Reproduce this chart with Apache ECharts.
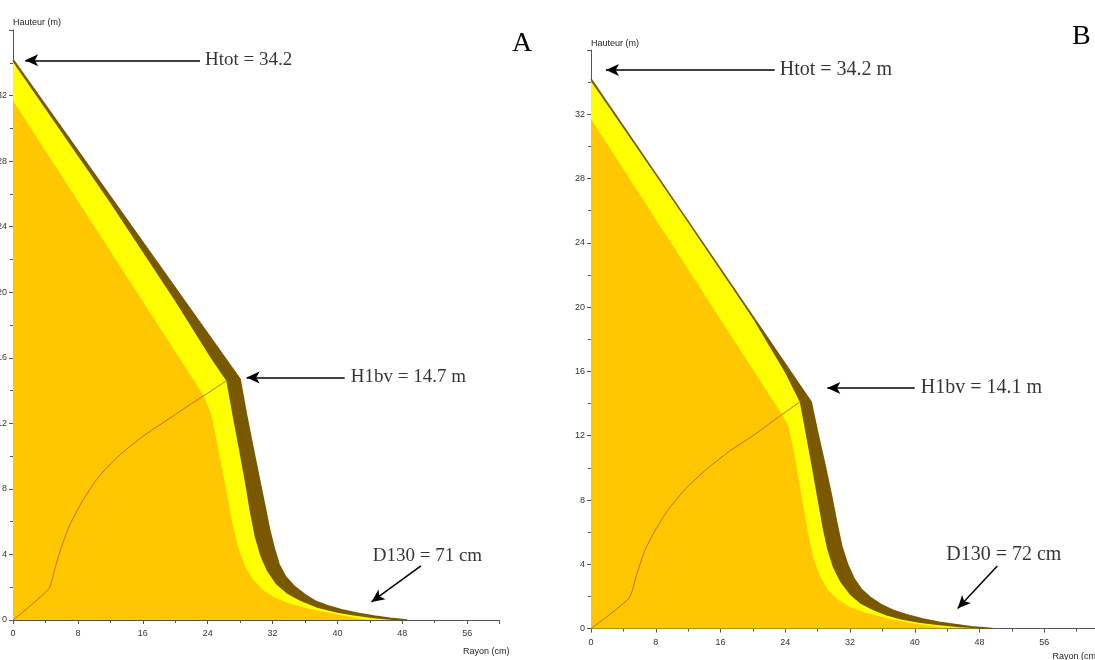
<!DOCTYPE html>
<html><head><meta charset="utf-8">
<script src="https://cdn.jsdelivr.net/npm/echarts@6/dist/echarts.min.js"></script>
<style>html,body{margin:0;padding:0;background:#fff}#c{width:1095px;height:660px}</style>
</head><body><div id="c"></div>
<script>
// ---------- Panel A data (Rayon cm, Hauteur m) ----------
const outerA  = [[0,34.2],[28.0,14.7],[28.8,12.5],[29.6,10.5],[30.3,8.8],[31.0,7.1],[31.6,5.6],[32.2,4.4],[32.8,3.4],[33.6,2.65],[34.7,2.05],[36.0,1.55],[37.3,1.15],[38.8,0.87],[40.5,0.62],[42.5,0.41],[44.5,0.24],[46.5,0.1],[48.6,0]];
const yellowA = [[0,34.05],[12,25.45],[20,19.45],[24.5,15.9],[26.3,14.6],[27.1,12.4],[27.9,10.3],[28.6,8.4],[29.2,6.6],[29.8,5.1],[30.5,3.9],[31.3,3.0],[32.4,2.2],[33.8,1.6],[35.4,1.17],[37.5,0.75],[40.0,0.45],[42.0,0.27],[44.5,0.11],[46.9,0]];
const orangeA = [[0,31.7],[23.5,13.7],[24.5,12.5],[25.4,10.2],[26.3,7.9],[27.1,5.8],[27.8,4.4],[28.6,3.3],[29.6,2.45],[30.8,1.85],[32.2,1.4],[34.0,1.02],[36.0,0.75],[38.0,0.53],[40.0,0.33],[42.0,0.14],[43.8,0]];
const pithA   = [[0,0],[4.4,1.9],[5.2,3.2],[6.0,4.5],[7.0,5.8],[8.5,7.2],[10.5,8.7],[13,10],[16,11.2],[19,12.2],[22,13.2],[24.5,14.0],[26.3,14.6]];
const textsA  = ['Htot = 34.2','H1bv = 14.7 m','D130 = 71 cm'];
const textPosA = [[23.06,34.15],[40.9,14.8],[51.1,3.9]];
const arrowsA = [[[23.06,34.15],[1.5,34.15]],[[40.9,14.8],[28.8,14.8]],[[50.3,3.3],[44.2,1.1]]];

// ---------- Panel B data ----------
const outerB  = [[0,34.2],[27.2,14.1],[28.0,12.2],[28.9,10.2],[29.7,8.3],[30.4,6.5],[31.0,5.1],[31.7,4.0],[32.5,3.1],[33.4,2.45],[34.5,1.95],[35.8,1.5],[37.3,1.15],[39.0,0.86],[41.0,0.6],[43.0,0.4],[45.0,0.25],[47.0,0.12],[49.6,0]];
const yellowB = [[0,34.05],[12,25.3],[20,19.3],[24.0,15.9],[25.8,14.1],[26.5,12.2],[27.3,10.0],[28.0,8.0],[28.6,6.3],[29.2,4.9],[29.9,3.8],[30.8,2.9],[32.0,2.1],[33.3,1.55],[34.8,1.15],[36.5,0.82],[38.3,0.56],[40.5,0.37],[43.0,0.21],[45.5,0.09],[48.4,0]];
const orangeB = [[0,31.7],[23.5,13.4],[24.4,12.6],[25.3,10.4],[26.1,8.0],[26.8,6.0],[27.5,4.4],[28.3,3.25],[29.3,2.4],[30.5,1.8],[32.0,1.35],[34.0,0.98],[36.5,0.64],[39.0,0.4],[41.5,0.2],[44.5,0]];
const pithB   = [[0,0],[4.7,1.9],[5.6,3.3],[6.6,4.8],[7.8,6.0],[9.4,7.3],[11.5,8.6],[14,9.8],[17,11],[20,12],[23,13.1],[25.8,14.1]];
const textsB  = ['Htot = 34.2 m','H1bv = 14.1 m','D130 = 72 cm'];
const textPosB = [[22.7,34.76],[40.0,14.97],[51.0,4.58]];
const arrowsB = [[[22.7,34.76],[1.85,34.76]],[[40.0,14.97],[29.2,14.97]],[[50.2,3.9],[45.3,1.25]]];

const panelLetters = ['A','B'];
const xName = 'Rayon (cm)';
const yName = 'Hauteur (m)';

const BROWN = '#7A5800', YELLOW = '#FFFF00', ORANGE = '#FFC700', RED = '#D2601A';
const AX = '#555';
const SANS = 'Liberation Sans', SERIF = 'Liberation Serif';

function xAxisCfg(idx, max, nameGap, padTop) {
  return {
    gridIndex: idx, type: 'value', min: 0, max: max, interval: 8,
    name: xName, nameLocation: 'end', nameGap: nameGap,
    nameTextStyle: {fontFamily: SANS, fontSize: 9, color: '#222', align: 'right', verticalAlign: 'top', padding: [padTop,0,0,0]},
    axisLine: {lineStyle: {color: AX, width: 1}},
    axisTick: {length: 4, lineStyle: {color: AX}},
    minorTick: {show: true, splitNumber: 2, length: 3, lineStyle: {color: AX}},
    splitLine: {show: false}, minorSplitLine: {show: false},
    axisLabel: {fontFamily: SANS, fontSize: 9, color: '#333', margin: 9, showMaxLabel: false}
  };
}
function yAxisCfg(idx, nameGap) {
  return {
    gridIndex: idx, type: 'value', min: 0, max: 36, interval: 4,
    name: yName, nameLocation: 'end', nameGap: nameGap,
    nameTextStyle: {fontFamily: SANS, fontSize: 9, color: '#222', align: 'left'},
    axisLine: {lineStyle: {color: AX, width: 1}},
    axisTick: {length: 4, lineStyle: {color: AX}},
    minorTick: {show: true, splitNumber: 2, length: 3, lineStyle: {color: AX}},
    splitLine: {show: false}, minorSplitLine: {show: false},
    axisLabel: {fontFamily: SANS, fontSize: 9, color: '#333', margin: 6, showMaxLabel: false}
  };
}
function areaSeries(idx, data, fill, lineColor, lineWidth) {
  return {
    type: 'line', xAxisIndex: idx, yAxisIndex: idx, data: data,
    symbol: 'none', smooth: false, silent: true,
    lineStyle: {color: lineColor, width: lineWidth},
    areaStyle: {color: fill, opacity: 1}
  };
}
function panelSeries(idx, outer, yellow, orange, pith, texts, textPos, arrows, fontSize) {
  const labelCfg = [
    {position: 'right', distance: 5},
    {position: 'right', distance: 6},
    {position: 'inside'}
  ];
  return [
    areaSeries(idx, outer, BROWN, BROWN, 1.5),
    areaSeries(idx, yellow, YELLOW, YELLOW, 0),
    areaSeries(idx, orange, ORANGE, ORANGE, 0),
    {type: 'line', xAxisIndex: idx, yAxisIndex: idx, data: pith, symbol: 'none', silent: true,
     smooth: 0.2, lineStyle: {color: RED, width: 1}},
    {type: 'scatter', xAxisIndex: idx, yAxisIndex: idx, symbolSize: 0, silent: true,
     data: texts.map((t, i) => ({name: t, value: textPos[i],
        label: Object.assign({show: true, formatter: '{b}', fontFamily: SERIF, fontSize: fontSize, color: '#000'}, labelCfg[i])})),
     markLine: {
       silent: true, animation: false, symbol: ['none', 'arrow'], symbolSize: [0, 12],
       lineStyle: {color: '#000', width: 1.5, type: 'solid'},
       label: {show: false},
       data: arrows.map(a => [{coord: a[0], symbol: 'none'}, {coord: a[1], symbol: 'arrow', symbolSize: [9, 13]}])
     }}
  ];
}

const chart = echarts.init(document.getElementById('c'), null, {renderer: 'canvas'});
chart.setOption({
  animation: false,
  backgroundColor: '#fff',
  title: [
    {text: panelLetters[0], left: 507, top: 25, textStyle: {fontFamily: SERIF, fontSize: 28, fontWeight: 'normal', color: '#000'}},
    {text: panelLetters[1], left: 1067, top: 18, textStyle: {fontFamily: SERIF, fontSize: 28, fontWeight: 'normal', color: '#000'}}
  ],
  grid: [
    {left: 13, right: 595.4, top: 30, bottom: 40, containLabel: false, outerBoundsMode: 'none'},
    {left: 591, right: -14, top: 50, bottom: 31.4, containLabel: false, outerBoundsMode: 'none'}
  ],
  xAxis: [xAxisCfg(0, 60, 10, 27), xAxisCfg(1, 64, -10, 23)],
  yAxis: [yAxisCfg(0, 3), yAxisCfg(1, 2)],
  series: [].concat(
    panelSeries(0, outerA, yellowA, orangeA, pithA, textsA, textPosA, arrowsA, 19),
    panelSeries(1, outerB, yellowB, orangeB, pithB, textsB, textPosB, arrowsB, 20)
  )
});
</script></body></html>
